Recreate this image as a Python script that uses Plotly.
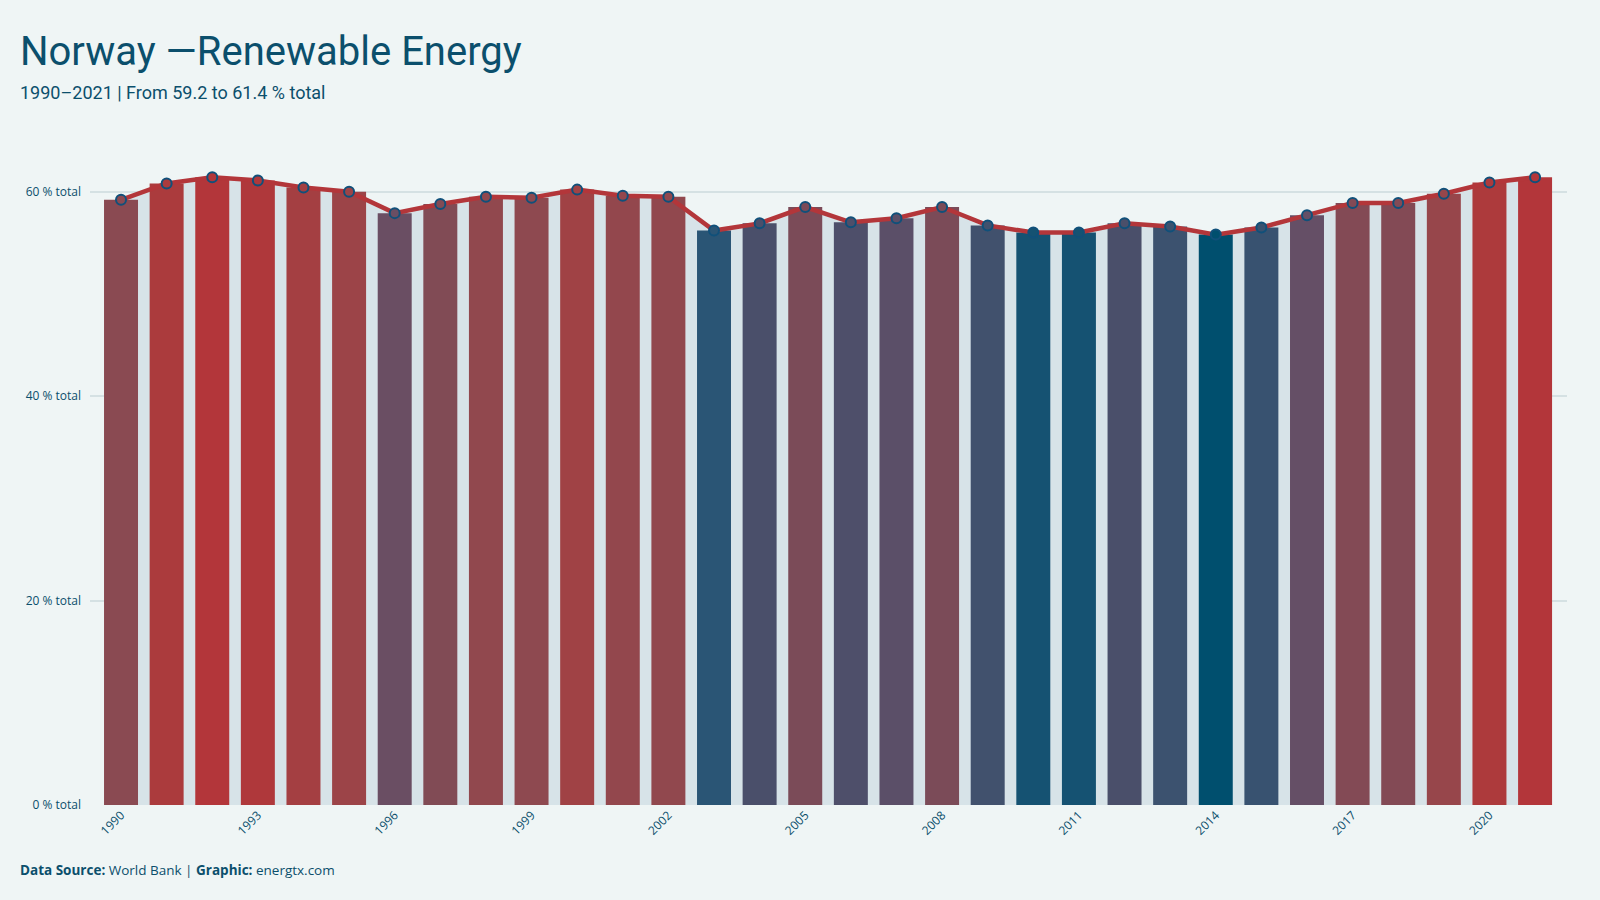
import plotly.graph_objects as go

years = list(range(1990, 2022))
values = [59.2, 60.8, 61.4, 61.1, 60.4, 60.0, 57.9, 58.8, 59.5, 59.4,
          60.2, 59.6, 59.5, 56.2, 56.9, 58.5, 57.0, 57.4, 58.5, 56.7,
          56.0, 56.0, 56.9, 56.6, 55.8, 56.5, 57.7, 58.9, 58.9, 59.8,
          60.9, 61.4]
tick_years = years[::3]
tick_labels = [str(y) for y in tick_years]
y_ticks = [0, 20, 40, 60]
y_tick_labels = [f"{v} % total" for v in y_ticks]

title_text = "Norway \u2014Renewable Energy"
subtitle_text = "1990\u20132021 | From 59.2 to 61.4 % total"
footer_text = "<b>Data Source:</b> World Bank | <b>Graphic:</b> energtx.com"

BG = "#eff5f5"
DARK = "#0b4f6c"
RED = "#b3363a"
colorscale = [
    [0.00, "#004f6e"],
    [0.07, "#2a5575"],
    [0.20, "#4b4f6a"],
    [0.34, "#654f66"],
    [0.48, "#7b4b58"],
    [0.61, "#8a4a52"],
    [0.75, "#9c4448"],
    [0.89, "#ab3b3d"],
    [1.00, "#b3363a"],
]
vmin, vmax = min(values), max(values)

L, R, T, B = 90, 33, 161, 95
W, H = 1600, 900
pw, ph = W - L - R, H - T - B

def px_x(p):
    return (p - L) / pw

def px_y(p):
    return (H - B - p) / ph

fig = go.Figure()

fig.add_trace(go.Scatter(
    x=years, y=values, mode="lines", line=dict(width=0, color="#d7e3e8"),
    fill="tozeroy", fillcolor="#d7e3e8", hoverinfo="skip",
    xaxis="x", yaxis="y", showlegend=False,
))

fig.add_trace(go.Bar(
    x=years, y=values, width=0.745,
    marker=dict(color=values, colorscale=colorscale, cmin=vmin, cmax=vmax,
                line=dict(width=0)),
    xaxis="x2", yaxis="y2", showlegend=False,
))

fig.add_trace(go.Scatter(
    x=years, y=values, mode="lines+markers",
    line=dict(color=RED, width=4.5),
    marker=dict(size=10, color=values, colorscale=colorscale, cmin=vmin, cmax=vmax,
                line=dict(color="#10507a", width=2)),
    xaxis="x2", yaxis="y2", showlegend=False,
))

xr = [1989.32, 2021.7]
yr = [0, 63.0]
tickfont = dict(family="Open Sans, Noto Sans, sans-serif", size=12, color=DARK)

fig.update_layout(
    width=W, height=H,
    margin=dict(l=L, r=R, t=T, b=B),
    paper_bgcolor=BG, plot_bgcolor=BG,
    bargap=0.25,
    xaxis=dict(range=xr, tickvals=tick_years, ticktext=tick_labels, tickangle=-45,
               tickfont=tickfont, showgrid=False, zeroline=False, showline=False,
               ticks=""),
    yaxis=dict(range=yr, tickvals=y_ticks, ticktext=y_tick_labels, tickfont=tickfont,
               showgrid=True, gridcolor="#d5e1e3", gridwidth=1.5, zeroline=False,
               showline=False, ticks="", ticklabelstandoff=8),
    xaxis2=dict(range=xr, overlaying="x", visible=False),
    yaxis2=dict(range=yr, overlaying="y", visible=False),
    annotations=[
        dict(text=title_text, xref="paper", yref="paper", x=px_x(18), y=px_y(51),
             xanchor="left", yanchor="middle", showarrow=False,
             font=dict(family="Roboto, sans-serif", size=40, color=DARK)),
        dict(text=subtitle_text, xref="paper", yref="paper", x=px_x(18), y=px_y(93),
             xanchor="left", yanchor="middle", showarrow=False,
             font=dict(family="Roboto, sans-serif", size=18, color=DARK)),
        dict(text=footer_text, xref="paper", yref="paper", x=px_x(18), y=px_y(870),
             xanchor="left", yanchor="middle", showarrow=False,
             font=dict(family="Open Sans, Noto Sans, sans-serif", size=13.5, color=DARK)),
    ],
)

fig.write_html("out.html")
